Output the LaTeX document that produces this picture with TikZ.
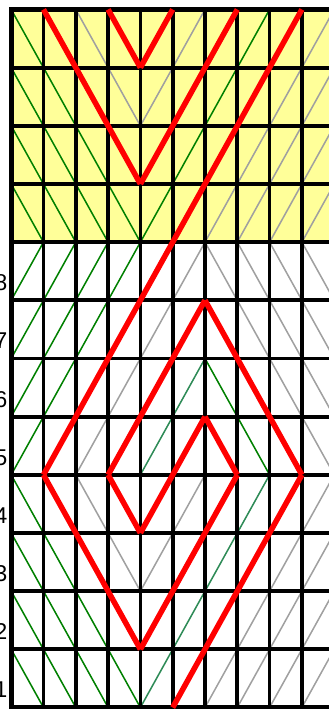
\documentclass[tikz,border=0pt]{standalone}
\usepackage{fontspec}
\setmainfont{Liberation Sans}
\definecolor{padyellow}{RGB}{255,255,153}
\definecolor{strandgreen}{RGB}{0,128,0}
\definecolor{strandteal}{RGB}{46,139,87}
\definecolor{strandgray}{RGB}{160,160,160}
\begin{document}
\begin{tikzpicture}[x=0.969cm, y=1.7451cm,
        strand/.style={line width=1.3pt},
        gridline/.style={line width=3.2pt},
        borderline/.style={line width=4.4pt},
        redstrand/.style={red, line width=4.7pt},
        rowlabel/.style={anchor=east, inner sep=0pt, font=\fontsize{19.5}{20}\selectfont}]
        \useasboundingbox (-0.3467,-0.0258) rectangle (9.839,12.163);
        \clip (-0.3467,-0.0258) rectangle (9.839,12.163);
        \fill[padyellow] (0,8) rectangle (10,12);

        \foreach \y in {9,...,12} {
            \draw[strand, strandgreen] (0,\y) -- (\y-8,8);
        }
        \foreach \y in {4,...,7} {
            \draw[strand, strandgreen] (0,\y) -- (8-\y,8);
        }
        \foreach \y in {1,...,4} {
            \draw[strand, strandgreen] (0,\y) -- (\y,0);
        }
        \foreach \x in {6,...,9} {
            \draw[strand, strandgray] (\x,8) -- (10,18-\x);
            \draw[strand, strandgray] (\x,8) -- (10,\x-2);
            \draw[strand, strandgray] (\x,0) -- (10,10-\x);
        }
        \draw[strand, strandgreen] (4,8) -- (8,12);
        \draw[strand, strandgreen] (6,6) -- (8,4);
        \draw[strand, strandteal] (4,4) -- (6,6);
        \draw[strand, strandteal] (4,0) -- (8,4);
        \draw[strand, strandgray] (2,12) -- (4,10) -- (6,12);
        \draw[strand, strandgray] (2,4) -- (6,8);
        \draw[strand, strandgray] (6,4) -- (4,2) -- (2,4);

        \foreach \x in {1,...,10} {
            \draw[gridline] (\x,0) -- (\x,12);
        }
        \foreach \y in {1,...,11} {
            \draw[gridline] (0,\y) -- (10,\y);
        }
        \draw[borderline] (10,12) -- (0,12) -- (0,0) -- (10,0);

        \foreach \xa/\ya/\xb/\yb in {1/12/4/9, 4/9/7/12, 3/12/4/11, 4/11/5/12,
                9/12/1/4, 1/4/4/1, 4/1/7/4, 7/4/6/5, 6/5/4/3, 4/3/3/4, 3/4/6/7, 6/7/9/4, 9/4/5/0} {
            \draw[redstrand] (\xa,\ya) -- (\xb,\yb);
        }

        \foreach \r in {1,...,8} {
            \node[rowlabel] (row\r) at (-0.115,\r-0.7) {\r};
        }
\end{tikzpicture}
\end{document}
